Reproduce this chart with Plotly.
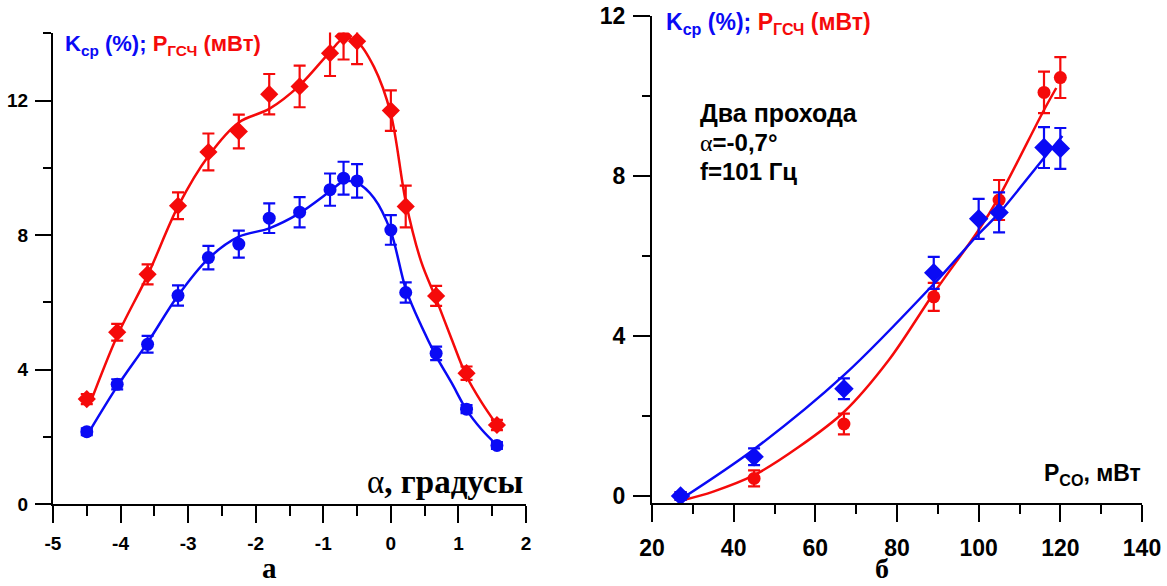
import plotly.graph_objects as go

# ---------------- Panel "а": dependence on angle alpha ----------------
alpha = [-4.5, -4.05, -3.6, -3.15, -2.7, -2.25, -1.8, -1.35, -0.9, -0.7, -0.5, 0.0, 0.22, 0.67, 1.12, 1.57]
k_a = [2.15, 3.56, 4.75, 6.20, 7.33, 7.73, 8.50, 8.68, 9.35, 9.69, 9.61, 8.15, 6.29, 4.48, 2.82, 1.74]
k_a_err = [0.10, 0.15, 0.25, 0.30, 0.35, 0.40, 0.44, 0.45, 0.48, 0.49, 0.50, 0.44, 0.30, 0.20, 0.12, 0.10]
p_a = [3.12, 5.11, 6.83, 8.87, 10.47, 11.08, 12.19, 12.42, 13.41, 13.91, 13.76, 11.70, 8.85, 6.19, 3.89, 2.35]
p_a_err = [0.15, 0.25, 0.30, 0.40, 0.55, 0.50, 0.60, 0.62, 0.68, 0.69, 0.68, 0.60, 0.62, 0.30, 0.20, 0.15]

# fitted curves
alpha_fit = [-4.45, -4.05, -3.6, -3.15, -2.7, -2.25, -1.8, -1.35, -0.9, -0.7, -0.5, -0.25, 0.0, 0.22, 0.45, 0.67, 0.9, 1.12, 1.35, 1.57]
k_a_fit = [2.2, 3.5, 4.8, 6.2, 7.3, 7.95, 8.2, 8.65, 9.3, 9.6, 9.55, 9.1, 8.1, 6.4, 5.3, 4.4, 3.6, 2.8, 2.2, 1.75]
p_a_fit = [3.0, 5.0, 6.8, 8.85, 10.35, 11.35, 11.75, 12.45, 13.45, 13.85, 13.75, 13.0, 11.6, 9.0, 7.2, 6.1, 4.9, 3.8, 3.0, 2.35]

x_ticks_a = [-5, -4, -3, -2, -1, 0, 1, 2]
x_ticklabels_a = ["-5", "-4", "-3", "-2", "-1", "0", "1", "2"]
y_ticks_a = [0, 4, 8, 12]

# ---------------- Panel "б": dependence on P_CO ----------------
p_co_k = [27, 45, 67, 89, 100, 105, 116, 120]
k_b = [0.0, 0.98, 2.68, 5.58, 6.93, 7.09, 8.71, 8.69]
k_b_err = [0.10, 0.21, 0.26, 0.40, 0.50, 0.50, 0.51, 0.51]
p_co_p = [27, 45, 67, 89, 105, 116, 120]
p_b = [0.0, 0.44, 1.80, 4.98, 7.40, 10.09, 10.46]
p_b_err = [0.10, 0.20, 0.26, 0.35, 0.50, 0.52, 0.51]

p_co_k_fit = [27.5, 45, 67, 89, 100, 105, 116, 120.5]
k_b_fit = [-0.05, 1.17, 3.02, 5.3, 6.55, 7.07, 8.45, 9.0]
p_co_p_fit = [27, 35, 45, 56, 67, 78, 89, 100, 105, 116, 119]
p_b_fit = [-0.12, 0.11, 0.52, 1.23, 2.1, 3.4, 5.07, 6.65, 7.48, 9.65, 10.2]

x_ticks_b = [20, 40, 60, 80, 100, 120, 140]
y_ticks_b = [0, 4, 8, 12]

BLUE = "#0a0af5"
RED = "#f50a0a"
W, H = 1167, 586


def px(x):
    return x / W


def py(y):
    return 1 - y / H


fig = go.Figure()


def err(vals, color):
    return dict(type="data", array=vals, visible=True, color=color, thickness=2.2, width=6)


# panel a
fig.add_trace(go.Scatter(x=alpha_fit, y=p_a_fit, mode="lines", line=dict(color=RED, width=2.5, shape="spline", smoothing=0.9),
                         xaxis="x", yaxis="y", showlegend=False, hoverinfo="skip"))
fig.add_trace(go.Scatter(x=alpha, y=p_a, mode="markers", marker=dict(symbol="diamond", size=14, color=RED),
                         error_y=err(p_a_err, RED), xaxis="x", yaxis="y", showlegend=False))
fig.add_trace(go.Scatter(x=alpha_fit, y=k_a_fit, mode="lines", line=dict(color=BLUE, width=2.5, shape="spline", smoothing=0.9),
                         xaxis="x", yaxis="y", showlegend=False, hoverinfo="skip"))
fig.add_trace(go.Scatter(x=alpha, y=k_a, mode="markers", marker=dict(symbol="circle", size=13, color=BLUE),
                         error_y=err(k_a_err, BLUE), xaxis="x", yaxis="y", showlegend=False))

# panel b
fig.add_trace(go.Scatter(x=p_co_p_fit, y=p_b_fit, mode="lines", line=dict(color=RED, width=2.5, shape="spline", smoothing=0.9),
                         xaxis="x2", yaxis="y2", showlegend=False, hoverinfo="skip"))
fig.add_trace(go.Scatter(x=p_co_p, y=p_b, mode="markers", marker=dict(symbol="circle", size=13, color=RED),
                         error_y=err(p_b_err, RED), xaxis="x2", yaxis="y2", showlegend=False))
fig.add_trace(go.Scatter(x=p_co_k_fit, y=k_b_fit, mode="lines", line=dict(color=BLUE, width=2.5, shape="spline", smoothing=0.9),
                         xaxis="x2", yaxis="y2", showlegend=False, hoverinfo="skip"))
fig.add_trace(go.Scatter(x=p_co_k, y=k_b, mode="markers", marker=dict(symbol="diamond", size=15, color=BLUE),
                         error_y=err(k_b_err, BLUE), xaxis="x2", yaxis="y2", showlegend=False))

SANS = "Liberation Sans, Arial, sans-serif"
NARROW = "Liberation Sans Narrow, Arial Narrow, Liberation Sans, sans-serif"
SERIF = "Liberation Serif, Times New Roman, serif"

common = dict(showline=True, linewidth=2, linecolor="black", ticks="outside", tickwidth=2, tickcolor="black",
              showgrid=False, zeroline=False, mirror=False, tickmode="array", automargin=False)

fig.update_layout(
    template="none",
    width=W, height=H, margin=dict(l=0, r=0, t=0, b=0, pad=0, autoexpand=False), autosize=False,
    paper_bgcolor="white", plot_bgcolor="white", showlegend=False,
    xaxis=dict(domain=[px(53), px(526)], range=[-5, 2], anchor="y", tickvals=x_ticks_a, ticktext=x_ticklabels_a,
               ticklen=17,
               minor=dict(dtick=0.5, tick0=0, ticklen=10, tickwidth=2, ticks="outside", tickcolor="black"),
               tickfont=dict(family=NARROW, size=19, color="black", weight="bold"), ticklabelstandoff=4, **common),
    yaxis=dict(domain=[py(504), py(504 - 14 * 33.67)], range=[0, 14.02], anchor="x", tickvals=y_ticks_a, ticklen=16,
               minor=dict(dtick=2, tick0=0, ticklen=8, tickwidth=2, ticks="outside", tickcolor="black"),
               tickfont=dict(family=NARROW, size=19, color="black", weight="bold"), ticklabelstandoff=3, **common),
    xaxis2=dict(domain=[px(652), px(1142)], range=[20, 140], anchor="y2", tickvals=x_ticks_b, ticklen=17,
                minor=dict(dtick=10, tick0=0, ticklen=9, tickwidth=2, ticks="outside", tickcolor="black"),
                tickfont=dict(family=NARROW, size=23, color="black", weight="bold"), ticklabelstandoff=6, **common),
    yaxis2=dict(domain=[py(503), py(16)], range=[-0.175, 12], anchor="x2", tickvals=y_ticks_b, ticklen=17,
                minor=dict(dtick=2, tick0=0, ticklen=8, tickwidth=2, ticks="outside", tickcolor="black"),
                tickfont=dict(family=NARROW, size=23, color="black", weight="bold"), ticklabelstandoff=3, **common),
)

header = (f"<span style='color:{BLUE}'>K<sub>ср</sub> (%);</span> "
          f"<span style='color:{RED}'>P<sub>ГСЧ</sub> (мВт)</span>")

ann = [
    dict(text=header, x=px(63), y=py(45), xanchor="left", yanchor="middle",
         font=dict(family=SANS, size=22, weight="bold")),
    dict(text=header, x=px(664), y=py(24), xanchor="left", yanchor="middle",
         font=dict(family=SANS, size=23, weight="bold")),
    dict(text="Два прохода", x=px(698), y=py(113), xanchor="left", yanchor="middle",
         font=dict(family=SANS, size=25, color="black", weight="bold")),
    dict(text=f"<span style='font-family:{SERIF};font-weight:normal'>α</span>=-0,7°", x=px(698), y=py(143),
         xanchor="left", yanchor="middle", font=dict(family=SANS, size=24, color="black", weight="bold")),
    dict(text="f=101 Гц", x=px(698), y=py(172), xanchor="left", yanchor="middle",
         font=dict(family=SANS, size=24, color="black", weight="bold")),
    dict(text=f"<span style='font-weight:normal'>α</span>, градусы", x=px(525), y=py(482), xanchor="right",
         yanchor="middle", font=dict(family=SERIF, size=33, color="black", weight="bold")),
    dict(text="P<sub>CO</sub>, мВт", x=px(1143), y=py(474), xanchor="right", yanchor="middle",
         font=dict(family=SANS, size=23, color="black", weight="bold")),
    dict(text="а", x=px(269), y=py(568), xanchor="center", yanchor="middle",
         font=dict(family=SERIF, size=29, color="black", weight="bold")),
    dict(text="б", x=px(882), y=py(568), xanchor="center", yanchor="middle",
         font=dict(family=SERIF, size=28, color="black", weight="bold")),
]
for a in ann:
    a.update(xref="paper", yref="paper", showarrow=False)
fig.update_layout(annotations=ann)

fig.write_html("out.html", post_script="document.body.style.margin='0';document.body.style.padding='0';")
